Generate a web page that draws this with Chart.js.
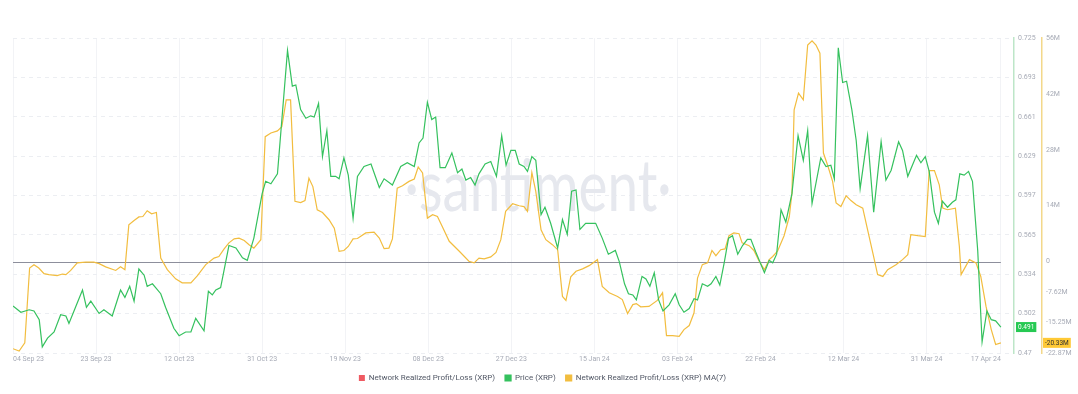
<!DOCTYPE html>
<html><head><meta charset="utf-8">
<script src="https://cdn.jsdelivr.net/npm/chart.js@4.4.1/dist/chart.umd.min.js"></script>
<style>html,body{margin:0;padding:0;background:#fff;}#wrap{width:1078px;height:394px;position:relative;}</style>
</head><body><div id="wrap"><canvas id="c" width="1078" height="394"></canvas></div>
<script>
// x positions are day offsets from 04 Sep 2023
const tickDays = [0,19,38,57,76,95,114,133,152,171,190,209,226];
const tickLabels = ['04 Sep 23','23 Sep 23','12 Oct 23','31 Oct 23','19 Nov 23','08 Dec 23','27 Dec 23','15 Jan 24','03 Feb 24','22 Feb 24','12 Mar 24','31 Mar 24','17 Apr 24'];

const priceDays = [0,1.8,3.7,4.8,6,6.7,7.9,9.4,10.9,12.1,12.8,14.3,15.9,16.8,17.8,19.7,20.8,22.7,24.6,25.6,26.7,27.7,28.8,30,30.7,31.9,33.8,34.9,36.8,38,39.5,40.7,41.8,43.7,44.7,45.6,46.4,47.5,49.4,51,52.5,53.6,55.1,57,57.8,59,60.5,62.8,63.9,64.7,65.8,67,68.1,68.9,69.9,70.8,71.8,72.7,73.8,74.6,75.7,76.7,77.8,78.8,80.3,81.9,83.8,84.9,86.8,88.7,90.2,91.8,92.9,93.8,94.8,95.8,96.7,97.7,98.9,100.4,101.7,102.7,103.6,104.7,105.7,106.6,108,109.3,110.6,111.8,112.8,113.9,114.9,115.8,116.9,117.7,118.7,119.6,120.8,121.7,123,124.6,125.7,126.8,127.8,128.8,129.7,131,133.3,134.8,136.2,137.8,138.7,139.9,140.8,141.8,142.6,143.9,144.8,145.7,146.7,147.7,148.7,150.1,151.5,152.4,153.5,154.7,155.8,156.6,157.7,158.9,159.7,160.8,161.7,162.7,163.7,164.6,165.8,166.9,168,168.8,169.9,171.9,173,173.8,174.7,175.7,176.8,178.2,179.6,180.8,181.8,182.8,184.8,186,187.1,187.9,188.8,189.8,190.7,191.9,192.9,193.8,195.5,196.9,198.6,199.7,200.9,202.6,203.5,204.7,206.7,207.7,208.7,209.6,210.8,211.7,212.6,213.8,214.9,215.7,216.6,217.6,218.6,219.5,220.7,221.7,222.8,223.8,224.8,226];
const priceValues = [0.508,0.503,0.505,0.504,0.497,0.475,0.482,0.487,0.501,0.500,0.494,0.507,0.521,0.507,0.512,0.502,0.505,0.500,0.521,0.515,0.524,0.512,0.538,0.533,0.524,0.526,0.518,0.507,0.490,0.484,0.487,0.487,0.498,0.488,0.520,0.517,0.521,0.523,0.557,0.555,0.547,0.545,0.563,0.599,0.609,0.607,0.615,0.715,0.686,0.687,0.667,0.660,0.662,0.661,0.672,0.629,0.650,0.613,0.613,0.611,0.628,0.614,0.579,0.613,0.621,0.623,0.604,0.611,0.606,0.621,0.624,0.621,0.640,0.644,0.673,0.659,0.661,0.620,0.620,0.632,0.616,0.619,0.610,0.612,0.606,0.615,0.623,0.625,0.613,0.646,0.622,0.634,0.634,0.623,0.621,0.617,0.629,0.626,0.582,0.588,0.575,0.555,0.578,0.566,0.601,0.602,0.570,0.575,0.575,0.563,0.550,0.553,0.544,0.526,0.518,0.517,0.513,0.532,0.530,0.524,0.535,0.513,0.504,0.509,0.518,0.509,0.503,0.506,0.514,0.513,0.526,0.524,0.526,0.532,0.525,0.543,0.563,0.565,0.550,0.557,0.562,0.562,0.552,0.535,0.545,0.543,0.550,0.586,0.576,0.599,0.646,0.626,0.650,0.591,0.628,0.621,0.622,0.611,0.717,0.689,0.690,0.667,0.642,0.603,0.646,0.584,0.641,0.610,0.618,0.641,0.634,0.613,0.630,0.624,0.629,0.617,0.584,0.575,0.593,0.588,0.592,0.594,0.615,0.614,0.617,0.609,0.553,0.479,0.504,0.497,0.496,0.491];

const maDays = [0,1.4,2.7,3.8,4.8,5.9,7.1,8.2,10.1,11.3,12.1,13.2,14.7,16.6,18.5,19.7,21.2,23.5,24.6,25.6,26.5,27.7,28.8,29.7,30.7,31.7,32.8,33.8,35.3,37.2,38.7,40.7,42.2,44.1,46,47.1,48.3,49.4,50.6,51.7,52.9,54,55.1,56.7,57.7,59,60.5,61.5,62.5,63.5,64.5,65.8,66.8,67.7,68.6,69.6,70.8,72.3,73.5,74.6,75.7,76.7,77.8,78.8,80.7,82.6,83.8,84.9,86,86.8,87.9,89.1,90.6,91.8,92.7,93.7,94.8,96,97.1,98.2,99.8,102.1,104.3,105.5,106.6,107.8,109.3,110.5,111.6,112.7,114.3,115.8,116.9,117.7,118.7,119.6,120.8,121.9,123.4,124.6,125.7,126.5,127.6,128.8,130.3,131.8,133.7,134.8,136.4,138.3,139.4,140.6,141.8,142.6,143.6,145.5,147.4,148.6,149.5,150.9,152.4,153.5,154.7,155.8,156.6,157.7,158.9,159.9,160.8,161.9,162.9,163.8,164.9,166.1,166.8,168.4,169.5,170.7,171.9,173,173.8,174.9,176.4,177.6,178.2,178.7,179.7,180.8,181.8,182.8,183.7,184.6,185.4,186.4,187.5,188.3,189.4,190.6,191.7,192.9,194.4,195.5,196.7,197.8,199,200.1,202,203.5,204.7,205.4,207,208.7,209.6,210.8,211.9,212.7,213.8,215.6,216.5,216.9,218.8,220.3,221.4,222.6,223.8,224.8,226];
const maValuesM = [-21.8,-22.4,-20.3,-1.6,-0.75,-1.6,-3.0,-3.25,-3.5,-3.1,-3.25,-2.2,-0.3,-0.1,-0.1,-0.5,-1.3,-2.2,-1.3,-2.0,9.25,10.3,11.2,11.3,12.75,12.0,12.3,0.9,-2.0,-4.3,-5.3,-5.3,-3.5,-0.75,0.9,1.3,3.2,4.7,5.7,5.9,5.3,4.25,3.4,5.5,31.3,32.2,32.75,33.8,40.5,40.5,15.1,14.8,15.3,20.9,18.8,13.0,12.3,10.5,8.4,2.6,2.8,3.8,5.7,5.8,7.2,7.4,5.9,3.25,3.4,5.7,18.4,19.0,20.1,20.7,23.7,22.2,10.9,11.75,11.3,8.8,5.1,2.6,0.1,-0.3,0.9,0.7,1.2,2.3,5.5,12.6,14.5,14.0,13.8,12.6,22.3,17.6,8.0,5.5,4.25,3.0,-8.7,-9.7,-3.8,-2.4,-1.8,-1.0,0.5,-6.2,-7.8,-8.7,-9.5,-13.0,-10.75,-10.5,-11.3,-11.2,-9.7,-7.8,-18.5,-18.5,-18.7,-17.0,-16.0,-12.8,-4.1,-0.75,-0.3,2.8,1.5,3.0,3.2,6.5,7.2,7.0,4.7,4.0,2.8,0.1,-2.0,0.5,1.3,2.6,6.5,11.3,17.2,38.0,42.2,40.5,54.25,55.3,54.25,52.2,27.2,24.0,20.1,14.7,13.8,16.5,15.3,14.25,13.4,8.0,2.2,-3.25,-3.7,-2.0,-0.75,0.5,1.75,6.75,6.5,6.3,22.8,22.8,19.25,13.4,13.0,13.4,3.8,-3.25,0.5,-0.3,-3.7,-11.2,-17.0,-20.75,-20.33];

const profitLossValuesM = []; // series listed in legend, not drawn in the picture

const priceTicks = [0.47,0.501875,0.53375,0.565625,0.5975,0.629375,0.66125,0.693125,0.725];
const priceTickLabels = ['0.47','0.502','0.534','0.565','0.597','0.629','0.661','0.693','0.725'];
const maTicks = [-22.87,-15.25,-7.62,0,14,28,42,56];
const maTickLabels = ['-22.87M','-15.25M','-7.62M','0','14M','28M','42M','56M'];
const lastPrice = 0.491, lastPriceLabel = '0.491';
const lastMa = -20.33, lastMaLabel = '-20.33M';

const GREEN = '#35c15e', YELLOW = '#f2bd3f', RED = '#ef5a62';
const tickColor = '#a7abb6';

const pts = (xs, ys) => xs.map((x, i) => ({x, y: ys[i]}));

const extras = {
  id: 'extras',
  beforeDatasetsDraw(chart) {
    const {ctx, chartArea: a, scales} = chart;
    // watermark
    ctx.save();
    ctx.font = '400 72px Lato';
    ctx.fillStyle = '#e6e8ee';
    const txt = '·santiment·';
    const w = ctx.measureText(txt).width;
    const target = 267;
    const cx = a.left + (a.right - a.left) * 0.5245;
    ctx.translate(cx, a.top + 173);
    ctx.scale(target / w, 1);
    ctx.textAlign = 'center';
    ctx.textBaseline = 'alphabetic';
    ctx.fillText(txt, 0, 0);
    ctx.restore();
    // zero line of MA axis
    const y0 = scales.y1.getPixelForValue(0);
    ctx.save();
    ctx.strokeStyle = '#8d8f9c';
    ctx.lineWidth = 1;
    ctx.beginPath();
    ctx.moveTo(scales.x.getPixelForValue(0), Math.round(y0) + 0.5);
    ctx.lineTo(scales.x.getPixelForValue(226), Math.round(y0) + 0.5);
    ctx.stroke();
    ctx.restore();
  },
  afterDraw(chart) {
    const {ctx, scales} = chart;
    ctx.save();
    ctx.font = '6.5px Roboto';
    ctx.textBaseline = 'middle';
    // price badge
    const py = scales.y.getPixelForValue(lastPrice);
    const px = scales.y.left + 2;
    const pw = ctx.measureText(lastPriceLabel).width + 4;
    ctx.fillStyle = '#26c953';
    ctx.fillRect(px, py - 5, pw, 10);
    ctx.fillStyle = '#ffffff';
    ctx.fillText(lastPriceLabel, px + 2, py + 0.5);
    // MA badge
    const my = scales.y1.getPixelForValue(lastMa);
    const mx = scales.y1.left + 1;
    const mw = ctx.measureText(lastMaLabel).width + 4;
    ctx.fillStyle = '#ffc935';
    ctx.fillRect(mx, my - 5, mw, 10);
    ctx.fillStyle = '#2f2f2f';
    ctx.fillText(lastMaLabel, mx + 2, my + 0.5);
    ctx.restore();
  }
};

new Chart(document.getElementById('c'), {
  type: 'line',
  data: {
    datasets: [
      { label: 'Network Realized Profit/Loss (XRP)', data: profitLossValuesM, borderColor: RED, backgroundColor: RED, borderWidth: 0, yAxisID: 'y1' },
      { label: 'Price (XRP)', data: pts(priceDays, priceValues), borderColor: GREEN, backgroundColor: GREEN, borderWidth: 1.2, pointRadius: 0, tension: 0, yAxisID: 'y' },
      { label: 'Network Realized Profit/Loss (XRP) MA(7)', data: pts(maDays, maValuesM), borderColor: YELLOW, backgroundColor: YELLOW, borderWidth: 1.2, pointRadius: 0, tension: 0, yAxisID: 'y1' }
    ]
  },
  options: {
    responsive: false,
    animation: false,
    events: [],
    layout: { padding: { left: 13, right: 6, top: 38, bottom: 2 } },
    scales: {
      x: {
        type: 'linear', min: 0, max: 229,
        afterBuildTicks: s => { s.ticks = tickDays.map(v => ({value: v})); },
        afterFit: s => { s.height = 11; },
        ticks: {
          autoSkip: false, maxRotation: 0, align: 'inner', padding: 2,
          color: tickColor, font: { size: 7, family: 'Roboto' },
          callback: v => tickLabels[tickDays.indexOf(v)]
        },
        grid: { color: '#f2f3f6', drawTicks: false },
        border: { display: false }
      },
      y: {
        position: 'right', min: 0.47, max: 0.725,
        afterBuildTicks: s => { s.ticks = priceTicks.map(v => ({value: v})); },
        afterFit: s => { s.width = 28; },
        ticks: {
          padding: 4, color: tickColor, font: { size: 7, family: 'Roboto' },
          callback: v => priceTickLabels[priceTicks.indexOf(v)]
        },
        grid: { color: '#eceef2', drawTicks: false },
        border: { display: true, color: '#bde6c8', width: 1.5, dash: [4, 4] }
      },
      y1: {
        position: 'right', min: -22.87, max: 56,
        afterBuildTicks: s => { s.ticks = maTicks.map(v => ({value: v})); },
        afterFit: s => { s.width = 30; },
        ticks: {
          padding: 4, color: tickColor, font: { size: 7, family: 'Roboto' },
          callback: v => maTickLabels[maTicks.indexOf(v)]
        },
        grid: { drawOnChartArea: false, drawTicks: false },
        border: { display: true, color: '#f3d88a', width: 1.5 }
      }
    },
    plugins: {
      legend: {
        position: 'bottom',
        labels: { boxWidth: 6, boxHeight: 6, padding: 10, color: '#525866', font: { size: 8, family: 'Roboto' } }
      },
      tooltip: { enabled: false }
    }
  },
  plugins: [extras]
});
</script></body></html>
